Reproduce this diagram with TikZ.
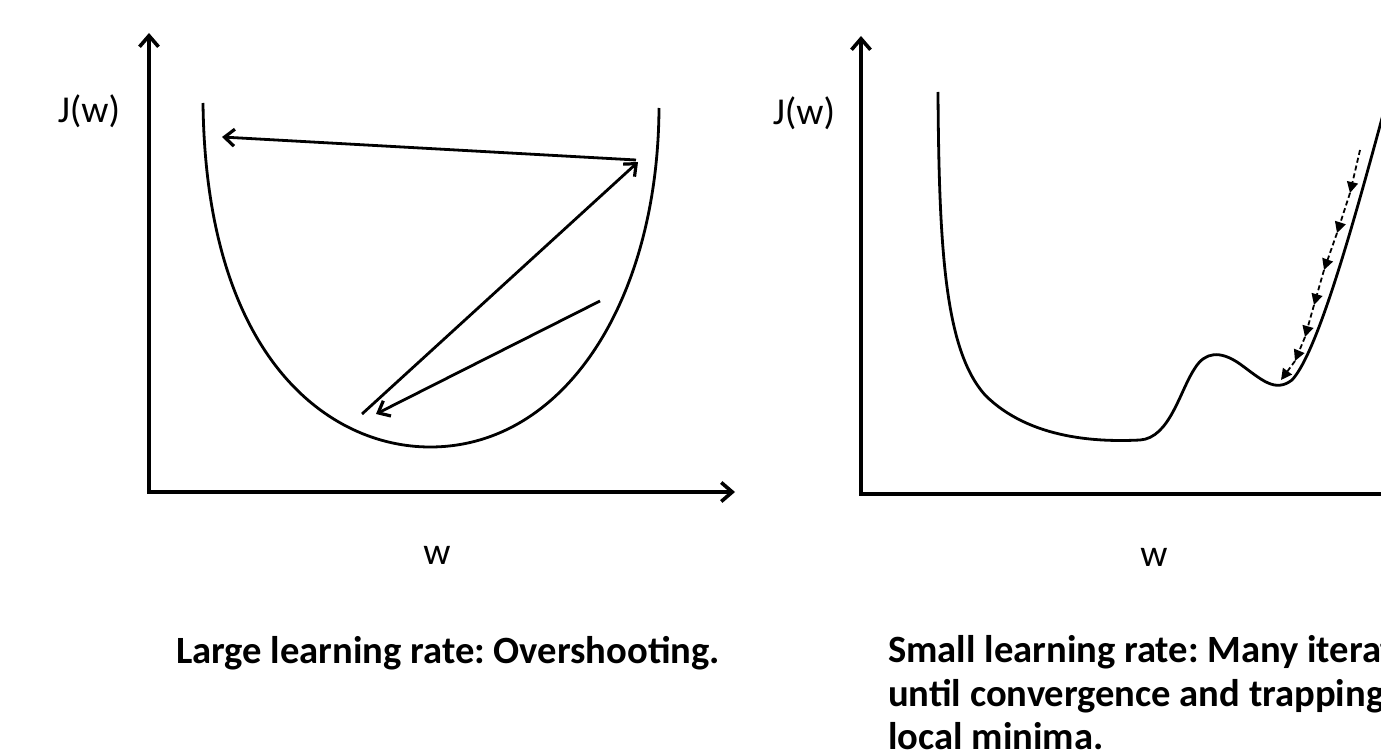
\documentclass[tikz,border=0pt]{standalone}
\usepackage{fontspec}
\setmainfont{Carlito}
\usetikzlibrary{arrows.meta}
\begin{document}
\frenchspacing
\begin{tikzpicture}[x=1pt,y=-1pt,
  axis/.style={line width=3.6pt,-{Straight Barb[length=11pt,width=19pt,line width=3.6pt]}},
  plainaxis/.style={line width=3.6pt},
  curve/.style={line width=2.8pt},
  jump/.style={line width=2.8pt,-{Straight Barb[length=10pt,width=17pt,line width=3.2pt]}},
  small/.style={line width=1.8pt,dash pattern=on 5pt off 3pt,-{Triangle[length=11pt,width=11pt]}},
  lab/.style={font=\fontsize{38}{44}\selectfont,inner sep=0pt},
  captext/.style={font=\fontsize{38.6}{44}\selectfont\bfseries,inner sep=0pt,anchor=base west}]
\useasboundingbox (0,0) rectangle (1381,754);
\clip (0,0) rectangle (1381,754);
% ---------- left panel ----------
\coordinate (Lo) at (149,492);
\coordinate (Ly) at (149,33);
\coordinate (Lx) at (735,492);
\draw[axis] (Lo) -- (Ly);
\draw[axis] ([xshift=-1.8pt]Lo) -- (Lx);
\node[lab] (LJ) at (89,111) {J(w)};
\node[lab] (Lw) at (437,555) {w};
\draw[curve] (203,103) .. controls (206,360) and (330,447) .. (430,447)
  .. controls (565,447) and (658,300) .. (659,108);
\coordinate (a1) at (600,301);
\coordinate (a2) at (376,414);
\coordinate (b1) at (362,414);
\coordinate (b2) at (638,162);
\coordinate (c1) at (636,160);
\coordinate (c2) at (222,137);
\draw[jump] (a1) -- (a2);
\draw[jump] (b1) -- (b2);
\draw[jump] (c1) -- (c2);
\node[captext] (capL) at (176,663) {Large learning rate: Overshooting.};
% ---------- right panel ----------
\coordinate (Ro) at (861,494);
\coordinate (Ry) at (861,36);
\coordinate (Rx) at (1400,494);
\draw[axis] (Ro) -- (Ry);
\draw[plainaxis] ([xshift=-1.8pt]Ro) -- (Rx);
\node[lab] (RJ) at (804,113) {J(w)};
\node[lab] (Rw) at (1154,557) {w};
\draw[curve] (938,92) .. controls (939,250) and (945,350) .. (985,395)
  .. controls (1030,440) and (1100,442) .. (1140,440)
  .. controls (1170,438) and (1180,390) .. (1195,368)
  .. controls (1205,352) and (1220,350) .. (1240,364)
  .. controls (1262,380) and (1275,393) .. (1292,380)
  .. controls (1320,350) and (1360,200) .. (1395,70);
\coordinate (p0) at (1360,150);
\coordinate (p1) at (1350,193);
\coordinate (p2) at (1337,233);
\coordinate (p3) at (1324,270);
\coordinate (p4) at (1314,305);
\coordinate (p5) at (1305,337);
\coordinate (p6) at (1295,361);
\coordinate (p7) at (1281,380);
\foreach \u/\v in {p0/p1,p1/p2,p2/p3,p3/p4,p4/p5,p5/p6,p6/p7}
  \draw[small] (\u) -- (\v);
\node[captext] (capR1) at (888,662) {Small learning rate: Many iterations};
\node[captext] (capR2) at (888,706) {until convergence and trapping at};
\node[captext] (capR3) at (888,749) {local minima.};
\end{tikzpicture}
\end{document}
